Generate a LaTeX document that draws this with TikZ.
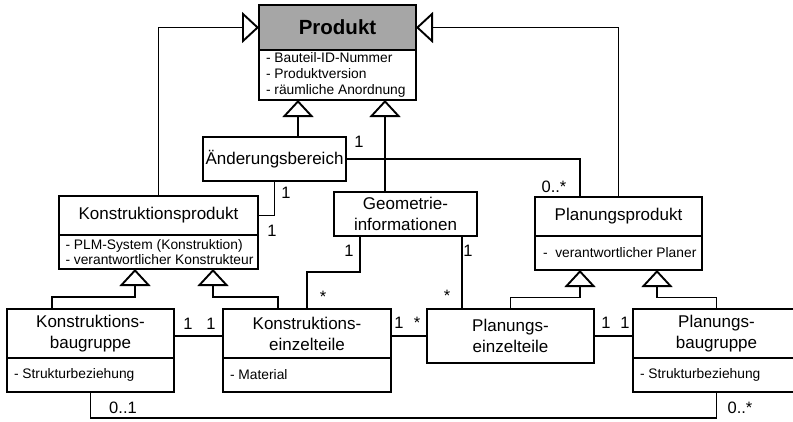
\documentclass[tikz,border=0pt]{standalone}
\usepackage{fontspec}
\setmainfont{Liberation Sans}
\usetikzlibrary{arrows.meta}
\definecolor{prodgray}{HTML}{A6A6A6}

\begin{document}
\begin{tikzpicture}[x=1pt,y=-1pt,
  every node/.style={inner sep=0pt, outer sep=0pt},
  ln/.style={line width=1.9pt},
  box/.style={draw, line width=1.9pt, anchor=north west, align=center,
    font=\fontsize{17}{21}\selectfont},
  attrtext/.style={anchor=west, align=left, font=\fontsize{13.8}{15.8}\selectfont},
  mult/.style={anchor=base, font=\fontsize{16.5}{18}\selectfont},
  gen/.style={ln, -{Triangle[length=17pt,width=31pt,fill=white]}},
  ]
\clip (0,0) rectangle (793,421);

% ---- classes ----
\node[box, fill=prodgray, minimum width=157pt, minimum height=45pt,
      font=\bfseries\fontsize{20.5}{24}\selectfont] (prodH) at (259,5) {Produkt};
\node[box, minimum width=157pt, minimum height=50pt] (prodA) at (prodH.south west) {};
\node[attrtext] (prodT) at ([xshift=7pt]prodA.west)
  {- Bauteil-ID-Nummer\\- Produktversion\\- räumliche Anordnung};

\node[box, minimum width=143pt, minimum height=44pt] (aend) at (203,137) {Änderungsbereich};

\node[box, minimum width=143pt, minimum height=44pt] (geo) at (334,192) {Geometrie-\\informationen};

\node[box, minimum width=199pt, minimum height=39pt] (kpH) at (59,196) {Konstruktionsprodukt};
\node[box, minimum width=199pt, minimum height=34pt] (kpA) at (kpH.south west) {};
\node[attrtext] (kpT) at ([xshift=6.5pt]kpA.west)
  {- PLM-System (Konstruktion)\\- verantwortlicher Konstrukteur};

\node[box, minimum width=167pt, minimum height=39pt] (ppH) at (535,197) {Planungsprodukt};
\node[box, minimum width=167pt, minimum height=34pt] (ppA) at (ppH.south west) {};
\node[attrtext] (ppT) at ([xshift=8pt]ppA.west) {-~~verantwortlicher Planer};

\node[box, minimum width=167pt, minimum height=49pt] (kbH) at (7,309) {Konstruktions-\\baugruppe};
\node[box, minimum width=167pt, minimum height=34pt] (kbA) at (kbH.south west) {};
\node[attrtext] (kbT) at ([xshift=7pt]kbA.west) {- Strukturbeziehung};

\node[box, minimum width=168pt, minimum height=49pt] (keH) at (223,309) {Konstruktions-\\einzelteile};
\node[box, minimum width=168pt, minimum height=34pt] (keA) at (keH.south west) {};
\node[attrtext] (keT) at ([xshift=7pt]keA.west) {- Material};

\node[box, minimum width=167pt, minimum height=54pt] (pe) at (427,309) {Planungs-\\einzelteile};

\node[box, minimum width=167pt, minimum height=49pt] (pbH) at (633,309) {Planungs-\\baugruppe};
\node[box, minimum width=167pt, minimum height=34pt] (pbA) at (pbH.south west) {};
\node[attrtext] (pbT) at ([xshift=7pt]pbA.west) {- Strukturbeziehung};

% ---- attachment points ----
\coordinate (pa1) at ([xshift=-39.5pt]prodA.south);
\coordinate (pa2) at ([xshift=47.5pt]prodA.south);
\coordinate (ka1) at ([xshift=-23.5pt]kpA.south);
\coordinate (ka2) at ([xshift=54.5pt]kpA.south);
\coordinate (pp1) at ([xshift=-38.5pt]ppA.south);
\coordinate (pp2) at ([xshift=38.5pt]ppA.south);
\coordinate (g1) at ([xshift=-45.5pt]geo.south);
\coordinate (g2) at ([xshift=56.5pt]geo.south);

% ---- generalisations ----
\draw[gen] (kpH.north) |- (prodH.west);
\draw[gen] (ppH.north) |- (prodH.east);
\draw[gen] (aend.north -| pa1) -- (pa1);
\draw[gen] (geo.north -| pa2) -- (pa2);
\draw[gen] ([xshift=-38.8pt]kbH.north) -- ++(0,-12) -| (ka1);
\draw[gen] ([xshift=-28.7pt]keH.north) -- ++(0,-12) -| (ka2);
\draw[gen] (pe.north) -- ++(0,-11.5) -| (pp1);
\draw[gen] (pbH.north) -- ++(0,-11.5) -| (pp2);

% ---- associations ----
\draw[ln] (aend.east) -| ([xshift=-38.5pt]ppH.north);
\draw[ln] (aend.south) |- (kpH.east);
\draw[ln] (g1) -- ++(0,36) -| (keH.north);
\draw[ln] (g2) -- (g2 |- pe.north);
\draw[ln] ([yshift=-2.5pt]kbH.east) -- ([yshift=-2.5pt]keH.west);
\draw[ln] (pe.west -| keH.east) -- (pe.west);
\draw[ln] (pe.east) -- (pe.east -| pbH.west);
\draw[ln] (kbA.south) -- ++(0,26) -| (pbA.south);

% ---- multiplicities ----
\node[mult] (m1) at (359,147) {1};
\node[mult] (m2) at (554,192) {0..*};
\node[mult] (m3) at (286,198) {1};
\node[mult] (m4) at (272,236) {1};
\node[mult] (m5) at (349,256) {1};
\node[mult] (m6) at (323,302) {*};
\node[mult] (m7) at (468,256) {1};
\node[mult] (m8) at (447,301) {*};
\node[mult] (m9) at (399,328) {1};
\node[mult] (m10) at (417,328) {*};
\node[mult] (m11) at (188,329) {1};
\node[mult] (m12) at (211,329) {1};
\node[mult] (m13) at (606,328) {1};
\node[mult] (m14) at (625,328) {1};
\node[mult] (m15) at (123,413) {0..1};
\node[mult] (m16) at (740,413) {0..*};
\end{tikzpicture}
\end{document}
